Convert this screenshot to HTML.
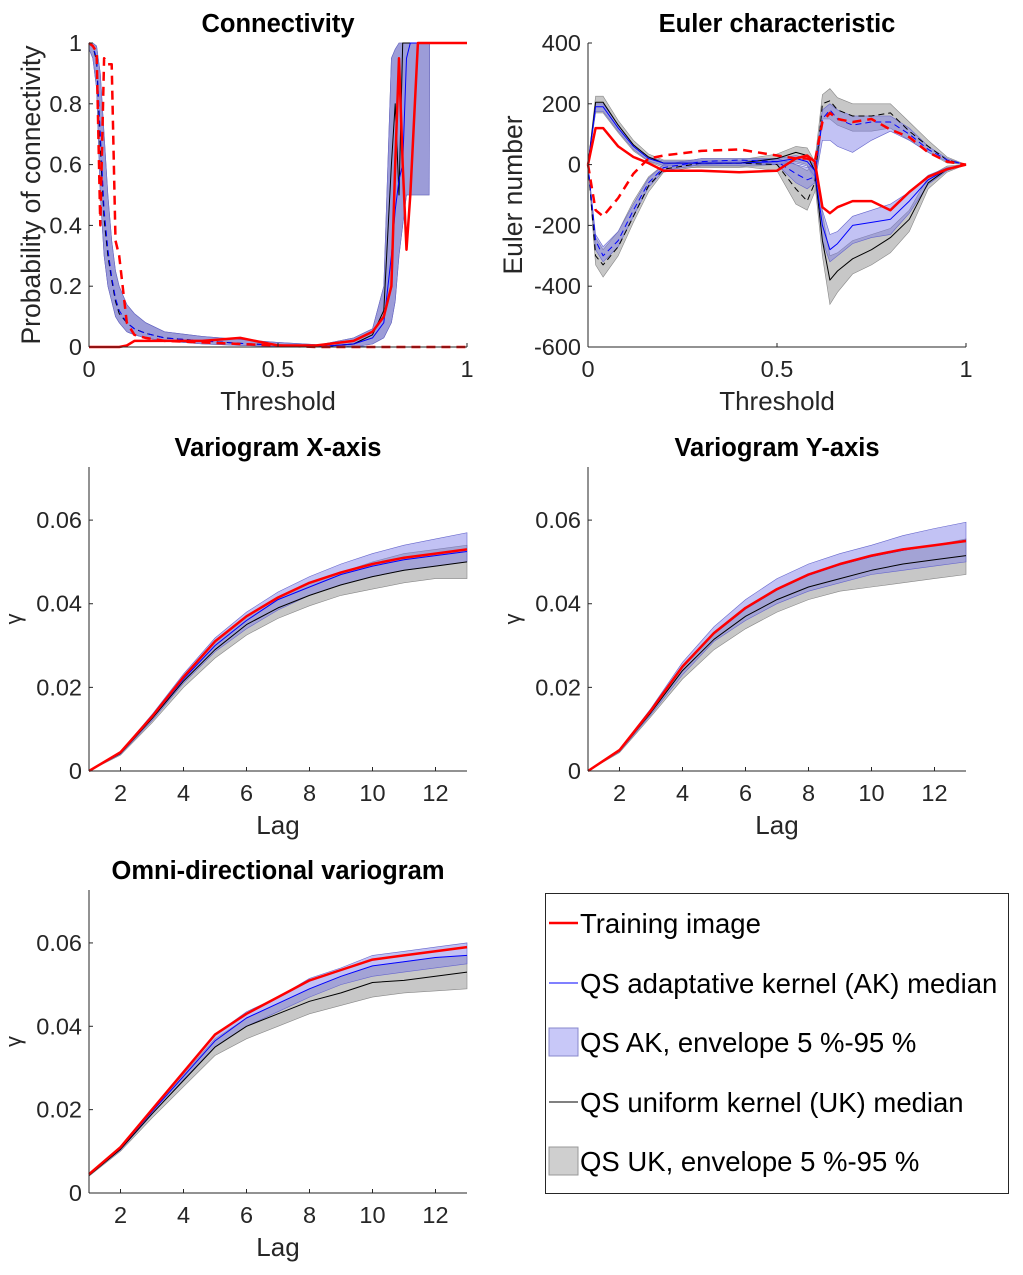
<!DOCTYPE html>
<html><head><meta charset="utf-8">
<style>
body{margin:0;background:#fff;}
svg{display:block;font-family:"Liberation Sans",Arial,sans-serif;}
</style></head>
<body>
<svg id="fig" width="1023" height="1275" viewBox="0 0 1023 1275">
<g id="layer"></g>
<g>
<rect x="545.5" y="893.5" width="463" height="300" fill="#fff" stroke="#262626" stroke-width="1"/>
<g>
<line x1="549" y1="923" x2="578" y2="923" stroke="#f00" stroke-width="2.5"/>
<text x="580" y="933" font-size="27.5" fill="#000">Training image</text></g>
<g>
<line x1="549" y1="983" x2="578" y2="983" stroke="#0000ff" stroke-width="1"/>
<text x="580" y="993" font-size="27.5" fill="#000">QS adaptative kernel (AK) median</text></g>
<g>
<rect x="549" y="1028" width="29" height="28" fill="#c8c8f8" stroke="#8888cc"/>
<text x="580" y="1052" font-size="27.5" fill="#000">QS AK, envelope 5 %-95 %</text></g>
<g>
<line x1="549" y1="1102" x2="578" y2="1102" stroke="#000" stroke-width="1"/>
<text x="580" y="1112" font-size="27.5" fill="#000">QS uniform kernel (UK) median</text></g>
<g>
<rect x="549" y="1147" width="29" height="28" fill="#cfcfcf" stroke="#999"/>
<text x="580" y="1171" font-size="27.5" fill="#000">QS UK, envelope 5 %-95 %</text></g>
</g>
</svg>
<script>
// ---------- Connectivity data ----------
const connX = [0,.01,.02,.03,.04,.05,.06,.07,.08,.1,.12,.15,.2,.3,.4,.5,.6,.7,.75,.78,.8,.81,.82,.83,.84,.85,.87,.9,.901,.95,1];
const connFallHi = [1,1,.99,.9,.7,.5,.35,.25,.2,.14,.11,.08,.05,.035,.025,.015,.008,.004,0,0,0,0,0,0,0,0,0,0,0,0,0];
const connFallLo = [.98,.95,.85,.5,.3,.2,.15,.1,.08,.05,.04,.03,.02,.01,.005,.002,0,0,0,0,0,0,0,0,0,0,0,0,0,0,0];
const connBlueF = [1,.99,.95,.7,.45,.32,.23,.16,.12,.08,.06,.045,.03,.02,.012,.006,.002,0,0,0,0,0,0,0,0,0,0,0,0,0,0];
const connBlackF = [1,.99,.94,.65,.42,.3,.22,.15,.11,.08,.06,.045,.03,.02,.012,.006,.002,0,0,0,0,0,0,0,0,0,0,0,0,0,0];
const connRedF = [1,.99,.97,.4,.95,.93,.93,.35,.3,.08,.04,.03,.02,.015,.01,.005,0,0,0,0,0,0,0,0,0,0,0,0,0,0,0];
const connRiseHi = [0,0,0,0,0,0,0,0,0,0,0,0,0,0,0,0,.005,.03,.06,.2,.95,.98,1,1,1,1,1,1,1,1,1];
const connRiseLo = [0,0,0,0,0,0,0,0,0,0,0,0,0,0,0,0,0,0,.01,.03,.08,.15,.3,.4,.5,.5,.5,.5,1,1,1];
const connBlueR = [0,0,0,0,0,0,0,0,0,0,0,0,0,0,0,0,0,.01,.03,.08,.3,.45,.55,.6,.95,1,1,1,1,1,1];
const connBlackR = [0,0,0,0,0,0,0,0,0,0,0,0,0,0,0,0,0,.01,.04,.12,.6,.8,.5,1,1,1,1,1,1,1,1];
const connRedR = [0,0,0,0,0,0,0,0,0,.005,.02,.02,.02,.02,.03,.005,.005,.02,.05,.1,.2,.6,.95,.6,.32,.5,1,1,1,1,1];
const connYTicks = [0,.2,.4,.6,.8,1];
const connYLabels = ["0","0.2","0.4","0.6","0.8","1"];
const threshTicks = [0,.5,1];
const threshLabels = ["0","0.5","1"];

// ---------- Euler data ----------
const eulX = [0,.02,.04,.08,.12,.16,.2,.3,.4,.5,.55,.58,.6,.62,.64,.66,.7,.75,.8,.85,.9,.95,1];
const eulBlueA = [0,190,190,120,60,20,5,5,5,10,20,10,-20,-200,-280,-260,-200,-190,-180,-120,-50,-15,0];
const eulBlackA = [0,205,205,130,65,25,5,5,5,20,40,30,-20,-250,-380,-350,-310,-280,-240,-180,-60,-15,0];
const eulRedA = [0,120,120,60,25,5,-20,-20,-25,-20,20,30,10,-140,-160,-140,-120,-120,-150,-90,-40,-15,0];
const eulBlueB = [0,-250,-300,-250,-150,-60,-10,10,15,10,-30,-50,-40,150,180,150,130,140,140,100,50,15,0];
const eulBlackB = [0,-300,-330,-270,-170,-70,-15,5,5,0,-80,-120,-60,200,210,180,160,160,170,110,60,15,0];
const eulRedB = [0,-150,-170,-110,-30,20,30,45,50,30,20,20,10,140,170,150,140,150,115,90,40,10,0];
const eulGrayAHi = [0,225,225,145,80,35,15,15,15,35,60,55,10,-160,-300,-290,-250,-230,-210,-150,-40,-5,0];
const eulGrayALo = [0,170,170,105,45,10,-10,-10,-10,0,10,0,-60,-300,-460,-420,-360,-330,-290,-220,-80,-25,0];
const eulBlueAHi = [0,200,200,130,65,25,12,12,12,20,30,20,0,-150,-230,-220,-170,-150,-130,-90,-35,-10,0];
const eulBlueALo = [0,175,175,110,50,12,-3,-3,-3,0,5,-5,-40,-250,-320,-300,-260,-240,-230,-160,-65,-20,0];
const eulGrayBHi = [0,-240,-280,-220,-120,-40,0,20,20,20,0,-20,10,230,250,220,200,200,200,140,80,25,0];
const eulGrayBLo = [0,-330,-370,-300,-190,-90,-25,-5,-5,-20,-130,-150,-90,150,150,130,110,110,120,80,40,5,0];
const eulBlueBHi = [0,-230,-270,-220,-130,-45,0,20,20,20,0,-10,0,180,200,180,160,160,160,120,60,20,0];
const eulBlueBLo = [0,-280,-320,-270,-170,-75,-20,0,5,0,-60,-80,-60,80,80,60,40,80,110,80,40,10,0];
const eulYTicks = [-600,-400,-200,0,200,400];
const eulYLabels = ["-600","-400","-200","0","200","400"];

// ---------- Variogram data ----------
const lags = [1,2,3,4,5,6,7,8,9,10,11,12,13];
const lagTicks = [2,4,6,8,10,12];
const lagLabels = ["2","4","6","8","10","12"];
const gamTicks = [0,.02,.04,.06];
const gamLabels = ["0","0.02","0.04","0.06"];
const vxRed = [0,.0045,.013,.0225,.031,.037,.0415,.045,.0475,.0495,.051,.052,.053];
const vxBlue = [0,.0043,.0128,.022,.030,.036,.041,.044,.047,.049,.0505,.0515,.0525];
const vxBlack = [0,.0042,.0125,.0215,.029,.035,.039,.042,.0445,.0465,.048,.049,.050];
const vxBlueHi = [0,.0046,.0135,.0232,.0318,.038,.0428,.0465,.0495,.052,.054,.0555,.057];
const vxBlueLo = [0,.004,.012,.021,.0285,.034,.0385,.042,.0445,.0465,.048,.049,.050];
const vxGrayHi = [0,.0045,.013,.0225,.031,.037,.0415,.045,.0475,.050,.052,.053,.054];
const vxGrayLo = [0,.0038,.0115,.020,.027,.0325,.0365,.0395,.042,.0435,.045,.046,.046];
const vyRed = [0,.005,.0145,.025,.033,.039,.0435,.047,.0495,.0515,.053,.054,.055];
const vyBlue = [0,.0049,.0143,.0248,.0328,.0388,.0433,.0468,.0493,.0513,.0528,.054,.0552];
const vyBlack = [0,.0048,.014,.024,.0315,.037,.041,.044,.046,.048,.0495,.0505,.0515];
const vyBlueHi = [0,.0052,.015,.026,.0345,.041,.046,.0495,.052,.054,.0563,.058,.0595];
const vyBlueLo = [0,.0046,.0135,.023,.031,.036,.040,.043,.045,.047,.048,.049,.050];
const vyGrayHi = [0,.005,.0145,.025,.033,.039,.0435,.047,.0495,.0515,.053,.054,.0555];
const vyGrayLo = [0,.0044,.013,.022,.029,.034,.038,.041,.043,.044,.045,.046,.047];
const voRed = [.0045,.011,.02,.029,.038,.043,.047,.051,.0535,.056,.057,.058,.059];
const voBlue = [.0045,.0108,.0195,.028,.0365,.042,.0455,.049,.052,.0545,.0555,.0565,.057];
const voBlack = [.0042,.0105,.019,.027,.035,.040,.043,.046,.048,.0505,.051,.052,.053];
const voBlueHi = [.0047,.011,.0202,.0292,.038,.0435,.047,.0515,.054,.057,.058,.059,.060];
const voBlueLo = [.0042,.0103,.0188,.0272,.035,.040,.0435,.047,.050,.052,.053,.054,.055];
const voGrayHi = [.0045,.011,.0198,.0285,.037,.042,.0455,.049,.052,.0545,.0555,.0565,.057];
const voGrayLo = [.004,.010,.018,.0255,.033,.037,.040,.043,.045,.047,.048,.0485,.049];

const NS = "http://www.w3.org/2000/svg";
const layer = document.getElementById('layer');
function mk(tag, attrs, parent){const e=document.createElementNS(NS,tag);for(const k in attrs)e.setAttribute(k,attrs[k]);(parent||layer).appendChild(e);return e;}

function makeAxes(o){
  const g = mk('g',{});
  
  
  const sx = v => o.px0 + (v-o.xmin)/(o.xmax-o.xmin)*(o.px1-o.px0);
  const sy = v => o.py0 - (v-o.ymin)/(o.ymax-o.ymin)*(o.py0-o.py1);
  return {g,sx,sy,o};
}
function band(ax, xs, lo, hi, fill, op, stroke, name){
  let d='M'+xs.map((x,i)=>ax.sx(x).toFixed(1)+','+ax.sy(hi[i]).toFixed(1)).join('L');
  for(let i=xs.length-1;i>=0;i--) d+='L'+ax.sx(xs[i]).toFixed(1)+','+ax.sy(lo[i]).toFixed(1);
  const p = mk('path',{d:d+'Z',fill:fill,'fill-opacity':op,stroke:stroke,'stroke-width':0.6},ax.g);
  
  
}
function line(ax, xs, ys, color, w, dash, name){
  const d='M'+xs.map((x,i)=>ax.sx(x).toFixed(1)+','+ax.sy(ys[i]).toFixed(1)).join('L');
  const p = mk('path',{d:d,fill:'none',stroke:color,'stroke-width':w,'stroke-linejoin':'round'},ax.g);
  if(dash) p.setAttribute('stroke-dasharray',dash);
  
  
}
function frame(ax, xt, xl, yt, yl, title, xlabel, ylabel, ylabelSize, ylabelX){
  const o=ax.o, g=ax.g;
  mk('line',{x1:o.px0,y1:o.py0,x2:o.px1,y2:o.py0,stroke:'#262626','stroke-width':1},g);
  mk('line',{x1:o.px0,y1:o.py0,x2:o.px0,y2:o.py1,stroke:'#262626','stroke-width':1},g);
  xt.forEach((v,i)=>{
    const x=ax.sx(v);
    mk('line',{x1:x,y1:o.py0,x2:x,y2:o.py0-4,stroke:'#262626'},g);
    const t=mk('text',{x:x,y:o.py0+30,'font-size':23.5,'text-anchor':'middle',fill:'#262626'},g);
    t.textContent=xl[i];
    
    
  });
  yt.forEach((v,i)=>{
    const y=ax.sy(v);
    mk('line',{x1:o.px0,y1:y,x2:o.px0+4,y2:y,stroke:'#262626'},g);
    const t=mk('text',{x:o.px0-7,y:y+8,'font-size':23.5,'text-anchor':'end',fill:'#262626'},g);
    t.textContent=yl[i];
    
    
  });
  const tt=mk('text',{x:(o.px0+o.px1)/2,y:o.py1-11,'font-size':25.5,'font-weight':'bold','text-anchor':'middle',fill:'#000'},g);
  tt.textContent=title;
  
  
  const xlb=mk('text',{x:(o.px0+o.px1)/2,y:o.py0+63,'font-size':26,'text-anchor':'middle',fill:'#262626'},g);
  xlb.textContent=xlabel;
  
  
  const cy=(o.py0+o.py1)/2;
  const ylb=mk('text',{x:ylabelX,y:cy,'font-size':ylabelSize,'text-anchor':'middle',fill:'#262626',transform:'rotate(-90 '+ylabelX+' '+cy+')'},g);
  ylb.textContent=ylabel;
  
  
}

const GRAY='#b4b4b4', BLUE='#7878e6';
// Connectivity
(function(){
  const ax=makeAxes({name:'connectivity-chart',px0:89,px1:467,py0:347,py1:43,xmin:0,xmax:1,ymin:0,ymax:1});
  band(ax,connX,connFallLo,connFallHi,GRAY,0.75,'#888','uk-envelope-fall');
  band(ax,connX,connFallLo,connFallHi,BLUE,0.55,'#66c','ak-envelope-fall');
  band(ax,connX,connRiseLo,connRiseHi,GRAY,0.75,'#888','uk-envelope-rise');
  band(ax,connX,connRiseLo,connRiseHi,BLUE,0.55,'#66c','ak-envelope-rise');
  line(ax,connX,connBlackF,'#000',1,'6 4','uk-median-fall');
  line(ax,connX,connBlueF,'#0000ff',1,'6 4','ak-median-fall');
  line(ax,connX,connBlackR,'#000',1,null,'uk-median-rise');
  line(ax,connX,connBlueR,'#0000ff',1,null,'ak-median-rise');
  line(ax,connX,connRedF,'#f00',2.5,'9 6','training-fall');
  line(ax,connX,connRedR,'#f00',2.5,null,'training-rise');
  frame(ax,threshTicks,threshLabels,connYTicks,connYLabels,'Connectivity','Threshold','Probability of connectivity',26.5,40);
})();
// Euler
(function(){
  const ax=makeAxes({name:'euler-chart',px0:588,px1:966,py0:347,py1:43,xmin:0,xmax:1,ymin:-600,ymax:400});
  band(ax,eulX,eulGrayALo,eulGrayAHi,GRAY,0.75,'#888','uk-envelope-a');
  band(ax,eulX,eulGrayBLo,eulGrayBHi,GRAY,0.75,'#888','uk-envelope-b');
  band(ax,eulX,eulBlueALo,eulBlueAHi,BLUE,0.45,'#66c','ak-envelope-a');
  band(ax,eulX,eulBlueBLo,eulBlueBHi,BLUE,0.45,'#66c','ak-envelope-b');
  line(ax,eulX,eulBlackA,'#000',1,null,'uk-median-a');
  line(ax,eulX,eulBlackB,'#000',1,'6 4','uk-median-b');
  line(ax,eulX,eulBlueA,'#0000ff',1,null,'ak-median-a');
  line(ax,eulX,eulBlueB,'#0000ff',1,'6 4','ak-median-b');
  line(ax,eulX,eulRedA,'#f00',2.5,null,'training-a');
  line(ax,eulX,eulRedB,'#f00',2.5,'9 6','training-b');
  frame(ax,threshTicks,threshLabels,eulYTicks,eulYLabels,'Euler characteristic','Threshold','Euler number',26.5,522);
})();
function vario(name,px0,px1,py0,py1,title,red,blue,black,bhi,blo,ghi,glo){
  const ax=makeAxes({name:name,px0:px0,px1:px1,py0:py0,py1:py1,xmin:1,xmax:13,ymin:0,ymax:0.0727});
  band(ax,lags,glo,ghi,GRAY,0.75,'#888','uk-envelope');
  band(ax,lags,blo,bhi,BLUE,0.45,'#66c','ak-envelope');
  line(ax,lags,black,'#000',1,null,'uk-median');
  line(ax,lags,blue,'#0000ff',1,null,'ak-median');
  line(ax,lags,red,'#f00',2.5,null,'training-image');
  frame(ax,lagTicks,lagLabels,gamTicks,gamLabels,title,'Lag','γ',22,px0-68);
}
vario('variogram-x-chart',89,467,771,467,'Variogram X-axis',vxRed,vxBlue,vxBlack,vxBlueHi,vxBlueLo,vxGrayHi,vxGrayLo);
vario('variogram-y-chart',588,966,771,467,'Variogram Y-axis',vyRed,vyBlue,vyBlack,vyBlueHi,vyBlueLo,vyGrayHi,vyGrayLo);
vario('variogram-omni-chart',89,467,1193,890,'Omni-directional variogram',voRed,voBlue,voBlack,voBlueHi,voBlueLo,voGrayHi,voGrayLo);
</script>
</body></html>
